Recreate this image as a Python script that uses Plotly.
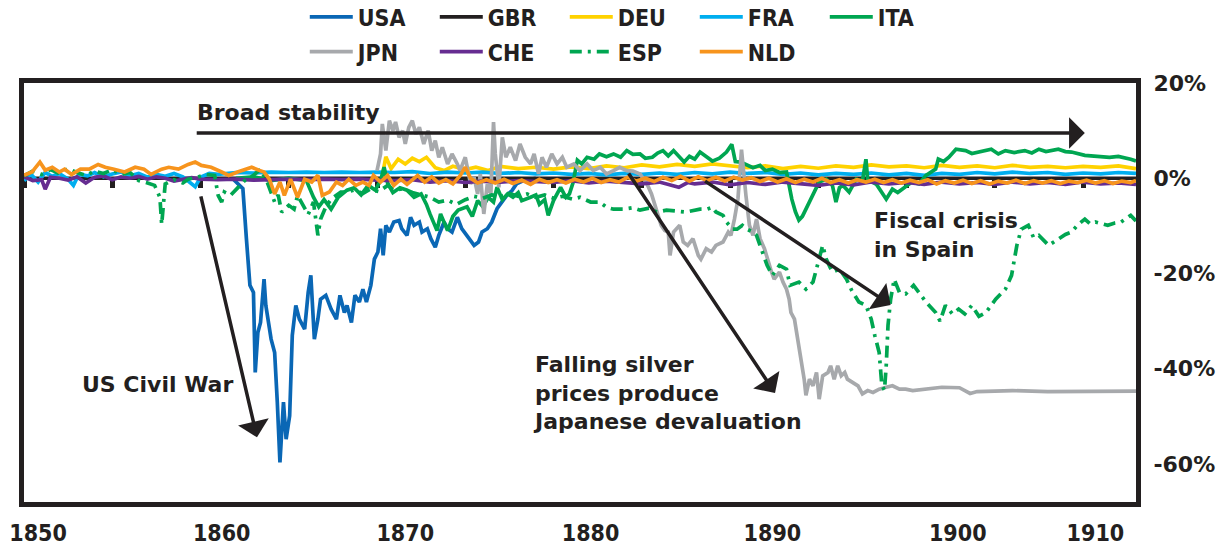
import plotly.graph_objects as go

# ---------------- data (percent deviation, by year) ----------------
usa = [(1861.8, 0), (1862.12, -1.2), (1862.4, -2.2), (1862.6, -12.7), (1862.8, -22.5), (1863.0, -24),
       (1863.1, -40.8), (1863.25, -32.4), (1863.4, -30.3), (1863.6, -21.2), (1863.7, -26.7), (1864.0, -33.8),
       (1864.2, -36.6), (1864.35, -47), (1864.5, -59.7), (1864.7, -47), (1864.85, -54.8), (1865.05, -49.9),
       (1865.2, -33), (1865.4, -26.7), (1865.6, -29.6), (1865.9, -31.7), (1866.1, -24), (1866.25, -20.4),
       (1866.45, -33.8), (1866.65, -29.6), (1866.8, -25.4), (1867.1, -24.6), (1867.4, -27.5), (1867.7, -29.6),
       (1867.9, -24.6), (1868.15, -28.2), (1868.3, -26.7), (1868.55, -30.3), (1868.75, -24.6), (1869.0, -26),
       (1869.2, -23.3), (1869.4, -26), (1869.65, -22.5), (1869.85, -17), (1870.05, -15.5), (1870.2, -10.6),
       (1870.35, -16.2), (1870.5, -9.9), (1870.7, -11.3), (1870.95, -9.2), (1871.25, -8.9), (1871.4, -10.6),
       (1871.7, -12), (1871.9, -8.2), (1872.1, -9.9), (1872.4, -9.2), (1872.55, -11.3), (1872.85, -10.6),
       (1873.05, -12.7), (1873.3, -14.5), (1873.5, -12), (1873.8, -9.2), (1874.0, -10.6), (1874.25, -11.3),
       (1874.55, -8.2), (1874.8, -10.6), (1875.1, -12), (1875.5, -14.1), (1875.75, -13.4), (1875.95, -11.3),
       (1876.25, -10.6), (1876.5, -9.2), (1876.8, -6.4), (1877.1, -5), (1877.35, -3.6), (1877.65, -2.6),
       (1877.9, -1.2), (1878.3, -0.5), (1879.0, 0)]

gbr = [(1850, 0), (1913, 0)]

deu = [(1870.3, 0.5), (1870.5, 4.5), (1870.8, 2), (1871.2, 4), (1871.6, 3), (1872, 4.2), (1872.4, 3.5),
       (1872.8, 4.4), (1873.3, 2.2), (1873.8, 1.6), (1874.3, 2.5), (1875, 1.8), (1875.6, 2.3), (1876.3, 1.6),
       (1877, 2.5), (1878, 2.0), (1879, 2.3), (1880, 1.9), (1881, 2.4), (1882, 2.0), (1883, 2.6), (1884, 2.2),
       (1885, 2.8), (1886, 2.4), (1887, 2.9), (1888, 2.5), (1889, 3.0), (1890, 2.6), (1891, 2.2), (1892, 2.6),
       (1893, 2.0), (1894, 2.5), (1895, 2.1), (1896, 2.6), (1897, 2.3), (1898, 2.8), (1899, 2.4), (1900, 2.6),
       (1901, 2.2), (1902, 2.7), (1903, 2.3), (1904, 2.6), (1905, 2.2), (1906, 2.7), (1907, 2.3), (1908, 2.5),
       (1909, 2.2), (1910, 2.5), (1911, 2.3), (1912, 2.6), (1913, 2.0)]

fra = [(1850, -0.5), (1850.4, 0.8), (1850.8, -0.8), (1851.2, 1.2), (1851.6, 0.4), (1852, 1.0), (1852.5, -0.2),
       (1852.8, -1.5), (1853.1, 0.8), (1853.6, 0.5), (1854, 1.2), (1854.5, 0.3), (1855, 0.9), (1855.5, 1.3),
       (1856, 0.5), (1856.5, 1.0), (1857, 0.2), (1857.5, 0.8), (1858, 0.4), (1858.5, 1.0), (1859, 0.3),
       (1859.4, -1.0), (1859.7, -1.8), (1860, 0.2), (1860.5, 1.0), (1861, 0.8), (1862, 1.2), (1863, 1.1),
       (1864, 1.3), (1865, 1.2), (1866, 1.3), (1867, 1.2), (1868, 1.3), (1869, 1.2), (1870, 1.3), (1871, 1.2),
       (1872, 1.4), (1873, 1.0), (1874, 1.3), (1875, 1.1), (1876, 1.3), (1877, 1.0), (1878, 1.2), (1879, 0.9),
       (1880, 1.1), (1881, 0.8), (1882, 1.0), (1883, 0.7), (1884, 1.0), (1885, 0.8), (1886, 1.1), (1887, 0.8),
       (1888, 1.2), (1889, 0.9), (1890, 1.3), (1891, 1.0), (1892, 1.2), (1893, 0.8), (1894, 1.1), (1895, 0.7),
       (1896, 1.0), (1897, 0.8), (1898, 1.1), (1899, 0.7), (1900, 1.0), (1901, 0.6), (1902, 1.0), (1903, 0.8),
       (1904, 1.2), (1905, 0.9), (1906, 1.3), (1907, 1.0), (1908, 1.2), (1909, 0.8), (1910, 1.1), (1911, 0.9),
       (1912, 1.2), (1913, 1.0)]

ita = [(1862, 0), (1863, 0.3), (1864, -0.5), (1865, 0), (1866.0, -0.5), (1866.4, -4), (1866.7, -6),
       (1867, -4.5), (1867.4, -6.5), (1867.8, -4), (1868.3, -2.5), (1868.7, -2), (1869.1, -3.5), (1869.5, -1.5),
       (1869.9, -2.5), (1870.2, -0.5), (1870.4, 2.3), (1870.6, -1), (1870.9, -3), (1871.3, -2), (1871.7, -2.5),
       (1872.1, -4), (1872.5, -3.3), (1872.8, -5.5), (1873, -7.5), (1873.4, -11), (1873.6, -7.5), (1874.0, -11),
       (1874.3, -8), (1874.6, -6.7), (1875.1, -6), (1875.4, -8), (1875.7, -4.7), (1876, -6), (1876.3, -4),
       (1876.6, -5), (1876.8, -1.9), (1877.1, -4.5), (1877.4, -3.3), (1877.7, -4), (1878.0, -3), (1878.2, -4.7),
       (1878.7, -4), (1879.0, -3.5), (1879.2, -5.5), (1879.5, -4.5), (1879.7, -7.8), (1880.0, -4.7),
       (1880.4, -1.9), (1880.7, -4), (1880.9, -3.3), (1881.1, -1), (1881.35, 3.8), (1881.6, 3), (1881.9, 4.4),
       (1882.3, 4), (1882.6, 5.1), (1883, 4.5), (1883.4, 5.1), (1883.8, 4.4), (1884.15, 5.8), (1884.5, 5),
       (1884.9, 5.1), (1885.2, 4.2), (1885.6, 4.4), (1885.9, 5.3), (1886.2, 5.8), (1886.5, 4.7), (1886.8, 5.8),
       (1887.1, 4.5), (1887.4, 3.4), (1887.7, 4.6), (1888, 4), (1888.3, 5.5), (1888.7, 4.5), (1889, 3.6),
       (1889.4, 4.2), (1889.8, 5.5), (1890.1, 7.1), (1890.3, 3.5), (1890.6, 3.4), (1890.9, 2.9), (1891.3, 2.2),
       (1891.7, 2.7), (1892, 1.6), (1892.4, 1.9), (1892.8, 1.2), (1893.2, 1.3), (1893.5, -4.4), (1893.7, -7),
       (1893.9, -8.8), (1894.1, -8), (1894.3, -6.5), (1894.7, -3.6), (1895.05, -0.8), (1895.45, -0.2),
       (1895.8, -1.5), (1896.0, -5), (1896.2, -2), (1896.4, -1.5), (1896.75, -2.9), (1897.15, -0.2),
       (1897.5, -0.6), (1897.7, 4), (1897.8, -0.3), (1898.3, -1.3), (1898.85, -4.4), (1899.2, -2.3),
       (1899.5, -3), (1899.75, -2.3), (1900.3, -0.8), (1900.7, -1.2), (1901.1, 0.6), (1901.65, 1.9),
       (1901.8, 4), (1902.1, 3.5), (1902.4, 4.4), (1902.8, 6.1), (1903.35, 5.8), (1903.7, 5.2), (1904.1, 5.5),
       (1904.8, 6.1), (1905.2, 5.1), (1905.6, 5.8), (1906.1, 5.4), (1906.7, 5.8), (1907.1, 5.3), (1907.5, 6.1),
       (1907.9, 5.6), (1908.2, 5.8), (1908.6, 6.1), (1909, 5.6), (1909.35, 5.5), (1910.1, 4.8), (1910.6, 4.7),
       (1911, 4.6), (1911.5, 4.4), (1912, 4.6), (1912.4, 4.3), (1912.7, 4.0), (1913, 3.6)]

jpn = [(1870.0, 1.6), (1870.2, 5.1), (1870.3, 11.4), (1870.5, 5.8), (1870.7, 12.1), (1870.9, 10),
       (1871.05, 11.8), (1871.25, 8.6), (1871.45, 10), (1871.6, 7.2), (1871.8, 10.7), (1872.0, 12.1),
       (1872.2, 9.3), (1872.4, 10.7), (1872.65, 7.2), (1872.9, 10), (1873.1, 5.8), (1873.3, 7.9), (1873.5, 4.4),
       (1873.7, 6.5), (1874.0, 3), (1874.25, 5.1), (1874.55, 3), (1874.7, 1.6), (1875.0, 4.4), (1875.3, -1.2),
       (1875.5, 0.2), (1875.7, -3.3), (1875.85, 0.9), (1876.05, -7.5), (1876.25, -1.2), (1876.45, -3.3),
       (1876.6, 11.8), (1876.7, 5.1), (1876.9, -1.9), (1877.1, 8.6), (1877.3, 4.4), (1877.55, 6.5),
       (1877.85, 3.7), (1878.1, 7.2), (1878.4, 4.4), (1878.7, 3), (1878.9, 5.1), (1879.15, 0.9), (1879.35, 4.4),
       (1879.6, 2.3), (1879.9, 5.1), (1880.2, 3), (1880.5, 4.4), (1880.75, 2.3), (1881.15, 3), (1881.5, 1.6),
       (1881.9, 3), (1882.25, 1.6), (1882.65, 2.3), (1883.0, 0.9), (1883.4, 1.6), (1883.75, 2.3), (1884.15, 1.6),
       (1884.5, 1.5), (1884.9, 0.9), (1885.3, -1.2), (1885.55, -3.3), (1885.75, -5.7), (1885.9, -7.8),
       (1886.1, -9.9), (1886.3, -11.0), (1886.5, -11.3), (1886.6, -16.2), (1886.8, -11.3), (1887.15, -9.9),
       (1887.35, -13.4), (1887.6, -14.1), (1887.9, -12.7), (1888.2, -16.2), (1888.35, -17), (1888.65, -14.8),
       (1888.95, -15.5), (1889.2, -14.1), (1889.6, -13.4), (1889.9, -11.3), (1890.05, -12), (1890.25, -8.6),
       (1890.45, -4.3), (1890.65, 6), (1890.8, -0.8), (1890.9, -3.6), (1891.1, -9.9), (1891.3, -12),
       (1891.5, -8.6), (1891.7, -12.7), (1891.95, -14.8), (1892.15, -17.6), (1892.35, -19.7), (1892.5, -21.2),
       (1892.8, -19.7), (1893.0, -21.8), (1893.2, -23.3), (1893.35, -25.4), (1893.45, -28.2), (1893.65, -29.6),
       (1893.85, -33.8), (1894.05, -38), (1894.2, -42.2), (1894.3, -45.6), (1894.5, -42.2), (1894.7, -43.6),
       (1894.9, -40.8), (1895.05, -46.4), (1895.25, -41.5), (1895.55, -40.8), (1895.7, -39.4), (1895.9, -42.2),
       (1896.1, -39.4), (1896.3, -41.5), (1896.5, -40.8), (1896.65, -42.2), (1896.95, -42.9), (1897.25, -43.6),
       (1897.5, -45.3), (1897.8, -44.6), (1898.1, -45), (1898.45, -44.3), (1898.85, -43.9), (1899.2, -43.6),
       (1899.6, -44.3), (1899.95, -44.3), (1900.35, -44.6), (1901, -44.3), (1902, -43.9), (1903, -44.0),
       (1903.6, -45.2), (1904, -44.8), (1906, -44.6), (1908, -44.8), (1910, -44.7), (1913, -44.7)]

che = [(1850, 0.3), (1850.5, -0.5), (1851, -0.3), (1851.2, -2.3), (1851.5, 0.2), (1852, 0.0), (1852.5, -0.4),
       (1853, 0.3), (1853.5, -1.0), (1854, 0.2), (1854.5, 0.5), (1855, -0.3), (1855.5, 0.3), (1856, 0.0),
       (1856.5, 0.4), (1857, -0.2), (1857.5, 0.3), (1858, 0.0), (1858.5, -0.6), (1859, -0.3), (1859.5, 0.1),
       (1860, -0.2), (1861, -0.3), (1862, -0.2), (1863, -0.4), (1864, -0.3), (1865, -0.2), (1866, -0.3),
       (1867, -0.2), (1868, -0.3), (1869, -0.2), (1870, -0.4), (1871, -0.5), (1872, -0.3), (1873, -0.8),
       (1874, -0.5), (1875, -0.9), (1876, -0.6), (1877, -0.8), (1878, -0.5), (1879, -0.7), (1880, -0.9),
       (1881, -0.5), (1882, -1.0), (1883, -0.6), (1884, -0.9), (1885, -1.2), (1886, -0.8), (1887.1, -1.9),
       (1887.6, -0.9), (1888, -1.2), (1889, -0.8), (1890, -1.4), (1891, -0.9), (1892, -1.3), (1893, -0.8),
       (1894, -1.1), (1895, -1.5), (1896, -1.0), (1897, -1.4), (1898, -0.8), (1899, -1.2), (1900, -0.9),
       (1901, -1.3), (1902, -0.8), (1903, -1.2), (1904, -0.9), (1905, -1.3), (1906, -0.8), (1907, -1.2),
       (1908, -0.9), (1909, -1.3), (1910, -0.8), (1911, -1.2), (1912, -1.0), (1913, -1.3)]

esp = [(1850, 0.5), (1850.5, 1.5), (1851, 0.8), (1851.5, 1.8), (1852, 1.0), (1852.5, 2.0), (1853, 1.2),
       (1853.5, 0.6), (1854, 1.5), (1854.5, 1.0), (1855, 1.8), (1855.5, 0.8), (1856, 1.2), (1856.5, -0.5),
       (1857, -1.0), (1857.4, -1.5), (1857.7, -4), (1857.8, -9.7), (1858.0, -1.2), (1858.5, -0.3), (1859, -1.0),
       (1859.3, -0.2), (1859.8, 0.2), (1860.3, 0.8), (1860.8, 0.6), (1861.0, -3.6), (1861.2, -5),
       (1861.35, -2.9), (1861.7, -3.6), (1862, -2.5), (1862.5, -0.5), (1863, 0.6), (1863.4, 1.9), (1863.8, -1),
       (1864.2, -5), (1864.4, -3.5), (1864.6, -7.1), (1865, -5.7), (1865.3, -6.5), (1865.5, -3.6),
       (1865.8, -5.5), (1866.1, -7.6), (1866.4, -5), (1866.65, -12), (1866.8, -8.6), (1867.1, -6),
       (1867.4, -4.4), (1867.95, -2.9), (1868.3, -2.9), (1868.7, -2.5), (1869.2, -3.2), (1869.6, -2.3),
       (1870.1, -2.8), (1870.6, -1.5), (1871, -2.5), (1871.5, -2.2), (1872, -3), (1872.5, -3.6), (1873, -4),
       (1873.5, -5), (1874, -4.6), (1874.5, -5.5), (1875, -4.5), (1875.5, -3.8), (1876, -4.2), (1876.5, -3.5),
       (1877, -3.8), (1877.5, -3.2), (1878, -3.8), (1878.5, -3.3), (1879, -4), (1879.5, -3.5), (1880, -4.2),
       (1880.5, -3.8), (1881.1, -4.4), (1881.5, -4), (1882.1, -5), (1882.6, -5), (1883, -6.1), (1883.4, -6.5),
       (1883.95, -6.5), (1884.5, -6.2), (1884.9, -6.7), (1885.4, -6.3), (1885.85, -7.1), (1886.4, -6.7),
       (1887.15, -6.9), (1887.5, -7.1), (1888.3, -6.5), (1888.7, -6.5), (1889.0, -6.1), (1889.2, -7.1),
       (1889.6, -7.8), (1889.8, -9.2), (1890.15, -10.7), (1890.4, -10.7), (1890.7, -9.9), (1890.95, -10.7),
       (1891.3, -11.3), (1891.5, -12), (1891.7, -14.1), (1892.1, -18.3), (1892.4, -20.4), (1892.8, -18.3),
       (1893.2, -19.1), (1893.4, -22.5), (1893.9, -21.8), (1894.3, -23.3), (1894.7, -21.8), (1895.05, -16.5),
       (1895.25, -14.1), (1895.45, -17), (1895.8, -19.7), (1896.2, -19.1), (1896.6, -21.2), (1896.9, -23.6),
       (1897.3, -26), (1897.7, -26.7), (1898.0, -29.6), (1898.2, -33), (1898.45, -36.6), (1898.6, -43.5),
       (1898.75, -44.5), (1898.85, -39.3), (1898.95, -30.9), (1899.1, -25.4), (1899.3, -21.2), (1899.6, -24),
       (1899.95, -24.3), (1900.4, -22.5), (1900.7, -24), (1901.1, -26), (1901.65, -28.2), (1901.9, -30),
       (1902.2, -26.7), (1902.6, -28.5), (1902.95, -27.5), (1903.3, -28.5), (1903.7, -26.7), (1904.1, -29),
       (1904.5, -28.2), (1905.05, -25.4), (1905.6, -23.3), (1905.95, -20.4), (1906.25, -14.1), (1906.5, -10.7),
       (1906.9, -9.9), (1907.2, -12.5), (1907.5, -12), (1908.05, -14.1), (1908.6, -12.8), (1909, -11.8),
       (1909.35, -11.3), (1909.7, -9.8), (1910.1, -8.6), (1910.4, -9.6), (1910.7, -9.2), (1911.4, -9.9),
       (1911.8, -9.4), (1912.15, -9.2), (1912.7, -7.8), (1913, -9)]

nld = [(1850, 0.6), (1850.45, 1.3), (1850.9, 3.4), (1851.2, 1.7), (1851.6, 2.3), (1852, 1.3), (1852.3, 1.9),
       (1852.7, 0.8), (1853.2, 1.9), (1853.7, 1.9), (1854.2, 2.9), (1854.6, 2.3), (1855.1, 1.9), (1855.7, 1.3),
       (1856.3, 2.3), (1856.8, 1.9), (1857.2, 0.8), (1857.8, 1.9), (1858.2, 2.3), (1858.75, 1.9), (1859.3, 2.9),
       (1859.7, 3.4), (1860.05, 2.7), (1860.6, 2.3), (1861.2, 1.3), (1861.6, 0.6), (1862.1, 1.3), (1862.9, 2.3),
       (1863.3, 1.7), (1863.6, 1.3), (1863.9, -0.2), (1864.2, -3.3), (1864.5, -0.8), (1864.75, -3.6),
       (1865.1, -0.2), (1865.5, -4), (1865.9, -0.2), (1866.3, -0.8), (1866.65, 0.6), (1866.9, -3.6),
       (1867.3, -2.9), (1867.7, -0.8), (1868.05, -1.5), (1868.4, -0.2), (1868.8, -1.5), (1869.2, -0.8),
       (1869.55, -1.5), (1869.8, 0.6), (1870.2, -0.8), (1870.6, 0.6), (1870.95, -1.5), (1871.35, -0.2),
       (1871.7, -1.3), (1872.3, 0.6), (1872.7, -0.8), (1873.1, 0.3), (1873.5, -1.0), (1873.9, -0.3),
       (1874.3, -1.2), (1874.7, 0.5), (1875.0, 2.3), (1875.3, 0.0), (1875.7, -1.0), (1876.2, -0.3),
       (1876.7, -1.0), (1877.2, -0.2), (1877.7, -1.1), (1878.2, -0.4), (1878.7, -1.3), (1879.2, -0.2),
       (1879.7, -0.9), (1880.2, -0.3), (1880.7, -1.0), (1881.2, -0.2), (1881.7, -0.8), (1882.2, 0.0),
       (1882.7, -0.9), (1883.2, -0.3), (1883.7, -0.8), (1884.2, 0.2), (1884.7, -0.6), (1885.2, 0.0),
       (1885.7, -0.7), (1886.2, 0.2), (1886.7, -0.5), (1887.2, 0.4), (1887.7, -0.6), (1888.2, 0.3),
       (1888.7, -0.5), (1889.2, 0.2), (1889.7, -0.6), (1890.2, 0.2), (1890.7, -0.4), (1891.2, 0.1),
       (1891.7, -0.7), (1892.2, 0.0), (1892.7, -0.8), (1893.2, -0.1), (1893.7, -0.9), (1894.2, -0.2),
       (1894.7, -0.8), (1895.2, 0.0), (1895.7, -0.9), (1896.2, -0.3), (1896.7, -1.0), (1897.2, -0.3),
       (1897.7, -0.8), (1898.2, -0.2), (1898.7, -0.9), (1899.2, -0.3), (1899.7, -1.0), (1900.2, -0.4),
       (1900.7, -0.9), (1901.2, -0.3), (1901.7, -1.2), (1902.2, -0.5), (1902.7, -1.0), (1903.2, -0.4),
       (1903.7, -1.1), (1904.2, -0.5), (1904.7, -1.2), (1905.2, -0.6), (1905.7, -1.0), (1906.2, -0.4),
       (1906.7, -1.1), (1907.2, -0.5), (1907.7, -1.0), (1908.2, -0.5), (1908.7, -1.1), (1909.2, -0.6),
       (1909.7, -0.9), (1910.2, -0.4), (1910.7, -1.0), (1911.2, -0.5), (1911.7, -1.1), (1912.2, -0.6),
       (1912.7, -0.9), (1913, -0.5)]

series_names = ["USA", "GBR", "DEU", "FRA", "ITA", "JPN", "CHE", "ESP", "NLD"]

x_tick_labels = ["1850", "1860", "1870", "1880", "1890", "1900", "1910"]
x_tick_pos = [1850.8, 1861.2, 1871.6, 1882.1, 1892.4, 1902.9, 1910.7]
y_tick_vals = [20, 0, -20, -40, -60]
y_tick_text = ["20%", "0%", "-20%", "-40%", "-60%"]

# ---------------- styling ----------------
colors = {"USA": "#0A67B5", "GBR": "#231F20", "DEU": "#FFD200", "FRA": "#00AEEF", "ITA": "#00A651",
          "JPN": "#A7A9AC", "CHE": "#662D91", "ESP": "#00A651", "NLD": "#F7941D"}
data = {"USA": usa, "GBR": gbr, "DEU": deu, "FRA": fra, "ITA": ita, "JPN": jpn, "CHE": che, "ESP": esp,
        "NLD": nld}

INK = "#231F20"
LEG_FONT = dict(family="DejaVu Sans Condensed, DejaVu Sans", size=23, color=INK, weight="bold")
ANN_FONT = dict(family="DejaVu Sans, Lato", size=22, color=INK, weight="bold")

fig = go.Figure()
for i, name in enumerate(series_names):
    xs = [p[0] for p in data[name]]
    ys = [p[1] for p in data[name]]
    line = dict(color=colors[name], width=3.7)
    if name == "ESP":
        line["dash"] = "12px,6px,3px,6px"
    fig.add_trace(go.Scatter(x=xs, y=ys, mode="lines", name=name, line=line,
                             legend="legend" if i < 5 else "legend2", hoverinfo="skip"))

Y_MIN, Y_MAX = -68, 20
X_MIN, X_MAX = 1850, 1913
zero_frac = (0 - Y_MIN) / (Y_MAX - Y_MIN)

legend_common = dict(orientation="h", x=0.2525, xanchor="left", yanchor="top", entrywidth=72,
                     entrywidthmode="pixels", itemwidth=43, font=LEG_FONT, bgcolor="rgba(0,0,0,0)",
                     tracegroupgap=0)

fig.update_layout(
    width=1231, height=546,
    margin=dict(l=24, r=95, t=83, b=44, autoexpand=False),
    paper_bgcolor="white", plot_bgcolor="white",
    xaxis=dict(range=[X_MIN, X_MAX], showgrid=False, zeroline=False, showline=True, linewidth=5,
               linecolor=INK, mirror=True, ticks="", tickmode="array", tickvals=x_tick_pos,
               ticktext=x_tick_labels, tickfont=LEG_FONT, ticklabelstandoff=6, automargin=False),
    xaxis2=dict(range=[X_MIN, X_MAX], overlaying="x", anchor="free", position=zero_frac, side="bottom",
                showgrid=False, zeroline=False, showline=False, showticklabels=False,
                ticks="outside", ticklen=9, tickwidth=4.5, tickcolor=INK,
                tickmode="linear", tick0=1850, dtick=5, layer="below traces", automargin=False),
    yaxis=dict(range=[Y_MIN, Y_MAX], side="right", showgrid=False, zeroline=False, showline=True,
               linewidth=5, linecolor=INK, mirror=True, ticks="", tickmode="array",
               tickvals=y_tick_vals, ticktext=y_tick_text, automargin=False,
               tickfont=dict(family="DejaVu Sans, Lato", size=22, color=INK, weight="bold"),
               ticklabelstandoff=8),
    legend=dict(y=1.209, **legend_common),
    legend2=dict(y=1.126, **legend_common),
    showlegend=True,
)
# invisible trace so that xaxis2 (zero-line ticks) is drawn
fig.add_trace(go.Scatter(x=[X_MIN], y=[0], xaxis="x2", mode="markers", marker=dict(opacity=0),
                         showlegend=False, hoverinfo="skip"))

# ---------------- annotations ----------------
texts = [
    dict(text="Broad stability", x=1859.7, y=13.9),
    dict(text="US Civil War", x=1853.2, y=-43.4),
    dict(text="Falling silver<br>prices produce<br>Japanese devaluation", x=1878.7, y=-45.1),
    dict(text="Fiscal crisis<br>in Spain", x=1898.05, y=-11.9),
]
for t in texts:
    fig.add_annotation(text=t["text"], x=t["x"], y=t["y"], xref="x", yref="y", xanchor="left",
                       yanchor="middle", align="left", showarrow=False, font=ANN_FONT)

arrows = [
    dict(tail=(1859.7, 9.5), tip=(1910.1, 9.5)),
    dict(tail=(1860.0, -3.5), tip=(1863.2, -54.4)),
    dict(tail=(1884.2, 1.3), tip=(1892.55, -45.1)),
    dict(tail=(1888.5, -0.4), tip=(1899.1, -26.6)),
]
for a in arrows:
    fig.add_annotation(text="", x=a["tip"][0], y=a["tip"][1], ax=a["tail"][0], ay=a["tail"][1],
                       xref="x", yref="y", axref="x", ayref="y", showarrow=True, arrowhead=1,
                       arrowsize=1.5, arrowwidth=3.5, arrowcolor=INK, standoff=0)

fig.write_html("out.html", config={"displayModeBar": False},
               post_script="document.body.style.margin='0';")
